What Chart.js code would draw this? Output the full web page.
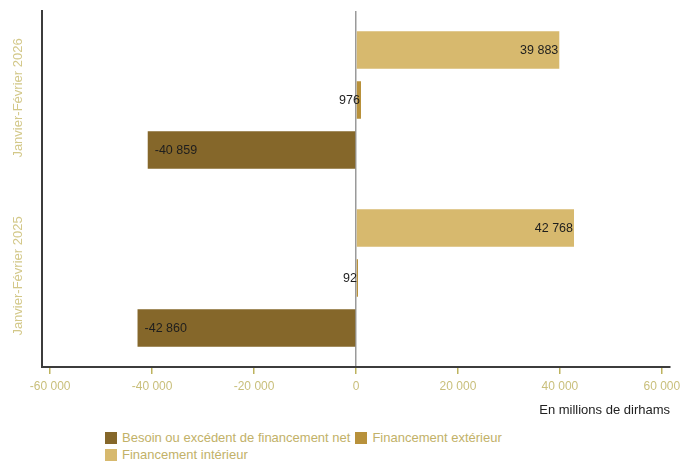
<!DOCTYPE html>
<html lang="fr">
  <head>
    <meta charset="utf-8" />
    <title>Financement</title>
    <style>
      * {
        margin: 0;
        padding: 0;
        font-family: "Liberation Sans", Arial, sans-serif;
      }
      body {
        background: white;
        width: 698px;
        height: 462px;
        position: relative;
        overflow: hidden;
      }
      .chartBox {
        position: absolute;
        left: 0;
        top: 0;
        width: 698px;
        height: 422px;
      }
      #legend {
        position: absolute;
        left: 105px;
        top: 429px;
        width: 430px;
        display: flex;
        flex-wrap: wrap;
        font-size: 13px;
        color: #c2b168;
      }
      #legend .item {
        display: flex;
        align-items: center;
        height: 17px;
        margin-right: 5px;
      }
      #legend .box {
        width: 12px;
        height: 12px;
        margin-right: 5px;
      }
    </style>
  </head>
  <body>
    <div class="chartBox">
      <canvas id="myChart"></canvas>
    </div>
    <div id="legend"></div>

    <script src="https://cdn.jsdelivr.net/npm/chart.js@4.4.0/dist/chart.umd.min.js"></script>

    <script>
      const periods = ["Janvier-Février 2026", "Janvier-Février 2025"];
      const seriesNames = [
        "Besoin ou excédent de financement net",
        "Financement extérieur",
        "Financement intérieur",
      ];
      const besoinNet = [-40859, -42860];
      const financementExterieur = [976, 92];
      const financementInterieur = [39883, 42768];
      const xTicks = [-60000, -40000, -20000, 0, 20000, 40000, 60000];
      const colors = ["#85672a", "#b8913b", "#d7b96e"];

      const fmt = (v) =>
        String(v).replace(/\B(?=(\d{3})+(?!\d))/g, " ");

      const seriesValues = [besoinNet, financementExterieur, financementInterieur];

      // bars are stacked top to bottom in dataset order, so the
      // legend order (besoin first) is drawn last here
      const data = {
        labels: periods,
        datasets: [2, 1, 0].map((i) => ({
          label: seriesNames[i],
          data: seriesValues[i],
          backgroundColor: colors[i],
          borderWidth: 0,
          minBarLength: 2,
          categoryPercentage: 0.843,
          barPercentage: 0.75,
        })),
      };

      // value labels at the end of each bar
      const barValues = {
        id: "barValues",
        afterDatasetsDraw(chart) {
          const { ctx } = chart;
          ctx.save();
          ctx.font = "12.5px 'Liberation Sans', Arial, sans-serif";
          ctx.fillStyle = "#1e1e1e";
          ctx.textBaseline = "middle";
          chart.data.datasets.forEach((ds, i) => {
            chart.getDatasetMeta(i).data.forEach((bar, j) => {
              const v = ds.data[j];
              if (v >= 0) {
                ctx.textAlign = "right";
                ctx.fillText(fmt(v), bar.x - 1, bar.y + 1);
              } else {
                ctx.textAlign = "left";
                ctx.fillText(fmt(v), bar.x + 7, bar.y + 1);
              }
            });
          });
          ctx.restore();
        },
      };

      // rotated category labels on the left
      const periodLabels = {
        id: "periodLabels",
        afterDraw(chart) {
          const { ctx } = chart;
          const y = chart.scales.y;
          ctx.save();
          ctx.font = "13px 'Liberation Sans', Arial, sans-serif";
          ctx.fillStyle = "#d3c889";
          ctx.textAlign = "center";
          ctx.textBaseline = "middle";
          periods.forEach((p, i) => {
            ctx.save();
            ctx.translate(18, y.getPixelForValue(i) - 2);
            ctx.rotate(-Math.PI / 2);
            ctx.fillText(p, 0, 0);
            ctx.restore();
          });
          ctx.restore();
        },
      };

      const config = {
        type: "bar",
        data: data,
        options: {
          indexAxis: "y",
          responsive: true,
          maintainAspectRatio: false,
          animation: false,
          layout: {
            padding: { top: 11, right: 28, left: 0, bottom: 0 },
          },
          scales: {
            x: {
              min: -61600,
              max: 61600,
              afterBuildTicks: (scale) => {
                scale.ticks = xTicks.map((v) => ({ value: v }));
              },
              border: { display: true, color: "#3c3c3c", width: 2 },
              grid: {
                color: (c) => (c.tick && c.tick.value === 0 ? "#9a9a9a" : "transparent"),
                lineWidth: 1.5,
                drawTicks: true,
                tickLength: 7,
                tickColor: "#bdb35e",
                tickWidth: 1.5,
              },
              ticks: {
                padding: 5,
                color: "#c9bf7b",
                font: { size: 12, family: "'Liberation Sans', Arial" },
                callback: (v) => fmt(v),
              },
              title: {
                display: true,
                text: "En millions de dirhams",
                align: "end",
                color: "#222",
                font: { size: 13, family: "'Liberation Sans', Arial" },
                padding: { top: 4, bottom: 4 },
              },
            },
            y: {
              border: { display: true, color: "#3c3c3c", width: 2 },
              grid: { display: false },
              ticks: { display: false },
              afterFit: (scale) => {
                scale.width = 42;
              },
            },
          },
          plugins: {
            legend: { display: false },
            tooltip: { enabled: false },
          },
        },
        plugins: [barValues, periodLabels],
      };

      const myChart = new Chart(document.getElementById("myChart"), config);

      const legend = document.getElementById("legend");
      seriesNames.forEach((name, i) => {
        const item = document.createElement("div");
        item.className = "item";
        const box = document.createElement("span");
        box.className = "box";
        box.style.background = colors[i];
        const txt = document.createElement("span");
        txt.textContent = name;
        item.appendChild(box);
        item.appendChild(txt);
        legend.appendChild(item);
      });
    </script>
  </body>
</html>
